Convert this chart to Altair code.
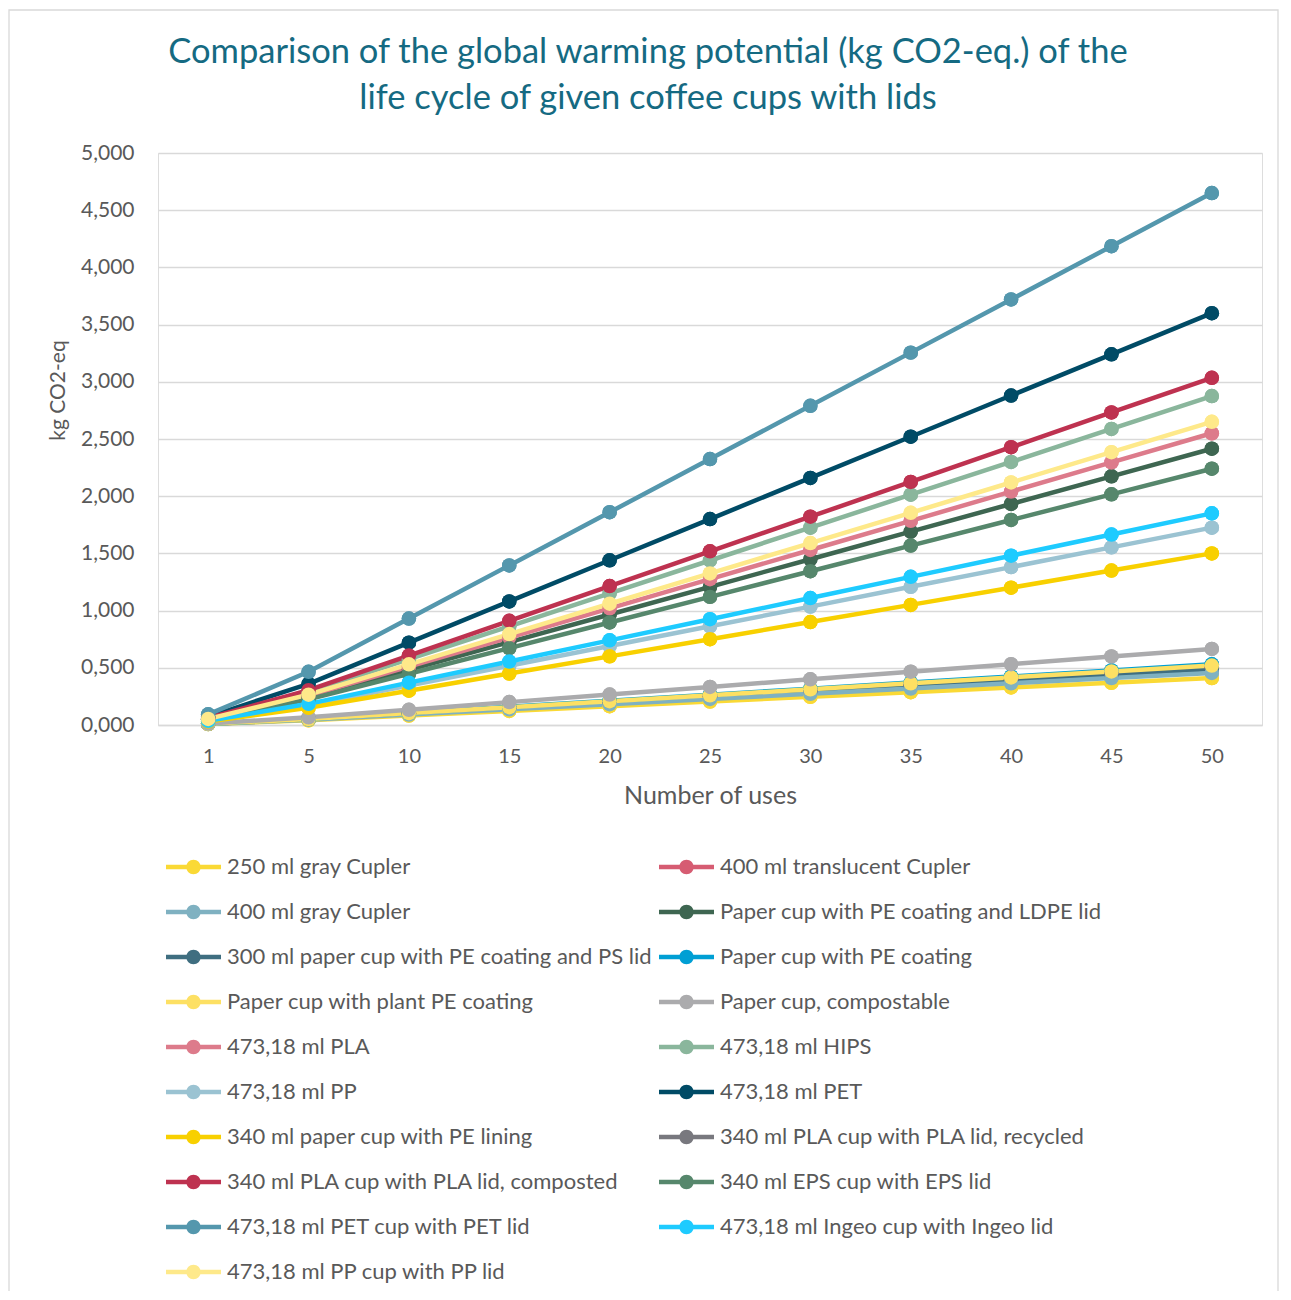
import altair as alt
import pandas as pd

uses = [1, 5, 10, 15, 20, 25, 30, 35, 40, 45, 50]

series_names = [
    "250 ml gray Cupler",
    "400 ml translucent Cupler",
    "400 ml gray Cupler",
    "Paper cup with PE coating and LDPE lid",
    "300 ml paper cup with PE coating and PS lid",
    "Paper cup with PE coating",
    "Paper cup with plant PE coating",
    "Paper cup, compostable",
    "473,18 ml PLA",
    "473,18 ml HIPS",
    "473,18 ml PP",
    "473,18 ml PET",
    "340 ml paper cup with PE lining",
    "340 ml PLA cup with PLA lid, recycled",
    "340 ml PLA cup with PLA lid, composted",
    "340 ml EPS cup with EPS lid",
    "473,18 ml PET cup with PET lid",
    "473,18 ml Ingeo cup with Ingeo lid",
    "473,18 ml PP cup with PP lid",
]

series_colors = [
    "#FAD935", "#D65C72", "#7FB1C1", "#3E6651", "#3F6E80", "#009FD4",
    "#FDE063", "#ABABAD", "#DD7B8B", "#8AB69C", "#9BC3D2", "#004B66",
    "#F8D000", "#78787E", "#BE3250", "#56876C", "#5497AD", "#1ECBFF",
    "#FEE98A",
]

# drawing order (back to front), as indices into series_names
draw_order = [13, 1, 4, 0, 2, 5, 6, 7, 3, 8, 9, 10, 11, 12, 14, 15, 16, 17, 18]

v_250_gray_cupler = [0.008, 0.041, 0.082, 0.123, 0.164, 0.205, 0.246, 0.287, 0.328, 0.369, 0.410]
v_400_translucent = [0.010, 0.050, 0.100, 0.150, 0.200, 0.250, 0.300, 0.350, 0.400, 0.450, 0.500]
v_400_gray_cupler = [0.009, 0.046, 0.091, 0.137, 0.182, 0.228, 0.273, 0.319, 0.364, 0.410, 0.455]
v_paper_pe_ldpe = [0.048, 0.242, 0.483, 0.725, 0.966, 1.208, 1.449, 1.691, 1.932, 2.174, 2.415]
v_300_paper_ps = [0.010, 0.049, 0.098, 0.147, 0.196, 0.245, 0.294, 0.343, 0.392, 0.441, 0.490]
v_paper_pe = [0.011, 0.053, 0.106, 0.159, 0.212, 0.265, 0.318, 0.371, 0.424, 0.477, 0.530]
v_paper_plant_pe = [0.010, 0.052, 0.104, 0.156, 0.208, 0.260, 0.312, 0.364, 0.416, 0.468, 0.520]
v_paper_compost = [0.013, 0.067, 0.133, 0.200, 0.266, 0.333, 0.399, 0.466, 0.532, 0.599, 0.665]
v_473_pla = [0.051, 0.255, 0.510, 0.765, 1.020, 1.275, 1.530, 1.785, 2.040, 2.295, 2.550]
v_473_hips = [0.058, 0.288, 0.575, 0.863, 1.150, 1.438, 1.725, 2.013, 2.300, 2.588, 2.875]
v_473_pp = [0.035, 0.173, 0.345, 0.518, 0.690, 0.863, 1.035, 1.208, 1.380, 1.553, 1.725]
v_473_pet = [0.072, 0.360, 0.720, 1.080, 1.440, 1.800, 2.160, 2.520, 2.880, 3.240, 3.600]
v_340_paper_pe_lining = [0.030, 0.150, 0.300, 0.450, 0.600, 0.750, 0.900, 1.050, 1.200, 1.350, 1.500]
v_340_pla_recycled = [0.010, 0.050, 0.100, 0.150, 0.200, 0.250, 0.300, 0.350, 0.400, 0.450, 0.500]
v_340_pla_composted = [0.061, 0.304, 0.607, 0.911, 1.214, 1.518, 1.821, 2.125, 2.428, 2.732, 3.035]
v_340_eps = [0.045, 0.224, 0.448, 0.672, 0.896, 1.120, 1.344, 1.568, 1.792, 2.016, 2.240]
v_473_pet_cup = [0.093, 0.465, 0.930, 1.395, 1.860, 2.325, 2.790, 3.255, 3.720, 4.185, 4.650]
v_473_ingeo = [0.037, 0.185, 0.370, 0.555, 0.740, 0.925, 1.110, 1.295, 1.480, 1.665, 1.850]
v_473_pp_cup = [0.053, 0.265, 0.530, 0.795, 1.060, 1.325, 1.590, 1.855, 2.120, 2.385, 2.650]

all_values = [
    v_250_gray_cupler, v_400_translucent, v_400_gray_cupler, v_paper_pe_ldpe,
    v_300_paper_ps, v_paper_pe, v_paper_plant_pe, v_paper_compost, v_473_pla,
    v_473_hips, v_473_pp, v_473_pet, v_340_paper_pe_lining, v_340_pla_recycled,
    v_340_pla_composted, v_340_eps, v_473_pet_cup, v_473_ingeo, v_473_pp_cup,
]

y_ticks = [0, 0.5, 1, 1.5, 2, 2.5, 3, 3.5, 4, 4.5, 5]

rows = []
for i in draw_order:
    for u, v in zip(uses, all_values[i]):
        rows.append({"series": series_names[i], "uses": u, "value": v})
df = pd.DataFrame(rows)

FONT = "Lato"
TEXT = "#595959"
GRID = "#D9D9D9"

color_scale = alt.Scale(domain=series_names, range=series_colors)

x_enc = alt.X(
    "uses:O",
    scale=alt.Scale(type="point", padding=0.5, domain=uses),
    axis=alt.Axis(
        title="Number of uses",
        labelAngle=0,
        labelFontSize=20,
        labelColor=TEXT,
        labelFont=FONT,
        labelPadding=21,
        ticks=False,
        tickSize=0,
        grid=False,
        domainColor=GRID,
        domainWidth=1.3,
        titleFontSize=25,
        titleFont=FONT,
        titleColor=TEXT,
        titleFontWeight="normal",
        titleY=70,
        titleBaseline="middle",
    ),
)
y_enc = alt.Y(
    "value:Q",
    scale=alt.Scale(domain=[0, 5], nice=False),
    axis=alt.Axis(
        title="kg CO2-eq",
        values=y_ticks,
        labelExpr="replace(format(datum.value, '.3f'), '.', ',')",
        labelFontSize=21,
        labelColor=TEXT,
        labelFont=FONT,
        labelPadding=24,
        ticks=False,
        tickSize=0,
        domain=False,
        grid=True,
        gridColor=GRID,
        gridWidth=1.3,
        titleFontSize=21,
        titleFont=FONT,
        titleColor=TEXT,
        titleFontWeight="normal",
        titleX=-100,
        titleY=237,
        titleAngle=270,
        titleAlign="center",
        titleBaseline="middle",
    ),
)

legend_symbol = (
    "M-5.5,-0.45 H5.5 V0.45 H-5.5 Z "
    "M-1.45,0 A1.45,1.45 0 1,1 1.45,0 A1.45,1.45 0 1,1 -1.45,0 Z"
)

legend = alt.Legend(
    title=None,
    orient="none",
    direction="horizontal",
    legendX=2,
    legendY=703,
    columns=2,
    symbolType=legend_symbol,
    symbolSize=100,
    symbolOffset=22.5,
    symbolStrokeWidth=0,
    symbolOpacity=1,
    labelOffset=22.5,
    labelFont=FONT,
    labelFontSize=22,
    labelColor=TEXT,
    labelLimit=0,
    rowPadding=23,
    columnPadding=-7,
)

base = alt.Chart(df)

points_legend = base.mark_point(filled=True, size=210, opacity=1).encode(
    x=x_enc,
    y=y_enc,
    color=alt.Color("series:N", scale=color_scale, legend=legend),
)

lines = base.mark_line(strokeWidth=4.5).encode(
    x=x_enc,
    y=y_enc,
    color=alt.Color("series:N", scale=color_scale, legend=None),
)

points = base.mark_point(filled=True, size=210, opacity=1).encode(
    x=x_enc,
    y=y_enc,
    color=alt.Color("series:N", scale=color_scale, legend=None),
)

border = alt.Chart(pd.DataFrame({"a": [0]})).mark_rect(
    fill="transparent", stroke=GRID, strokeWidth=1.3
).encode(
    x=alt.value(-149),
    x2=alt.value(1120),
    y=alt.value(-143),
    y2=alt.value(1160),
)

chart = (
    alt.layer(border, points_legend, lines, points)
    .properties(
        width=1104,
        height=572,
        autosize=alt.AutoSizeParams(type="none"),
        padding={"left": 150, "top": 145, "right": 17, "bottom": 566},
        title=alt.TitleParams(
            text=[
                "Comparison of the global warming potential (kg CO2-eq.) of the",
                "life cycle of given coffee cups with lids",
            ],
            font=FONT,
            fontSize=34.5,
            fontWeight="normal",
            color="#156A82",
            anchor="middle",
            frame="group",
            dx=-62,
            offset=-107,
            lineHeight=46,
        ),
    )
    .configure_view(strokeWidth=0)
    .configure(background="white")
)

chart.save("out.html", embed_options={"renderer": "svg", "actions": False})
